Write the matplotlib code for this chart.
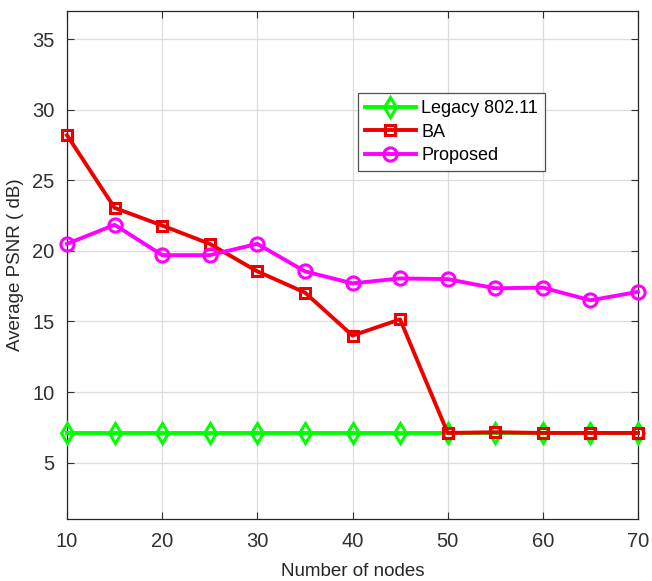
import matplotlib
matplotlib.use("Agg")
import matplotlib.pyplot as plt

plt.rcParams['font.family'] = ['Liberation Sans', 'DejaVu Sans']

nodes = [10, 15, 20, 25, 30, 35, 40, 45, 50, 55, 60, 65, 70]
legacy = [7.1, 7.1, 7.1, 7.1, 7.1, 7.1, 7.1, 7.1, 7.1, 7.1, 7.1, 7.1, 7.1]
ba = [28.2, 23.05, 21.8, 20.5, 18.55, 17.05, 14.0, 15.15, 7.1, 7.15, 7.1, 7.1, 7.1]
proposed = [20.5, 21.85, 19.7, 19.7, 20.5, 18.55, 17.7, 18.05, 18.0, 17.35, 17.4, 16.5, 17.1]

x_ticks = [10, 20, 30, 40, 50, 60, 70]
y_ticks = [5, 10, 15, 20, 25, 30, 35]

fig = plt.figure(figsize=(6.52, 5.81), dpi=100)
ax = fig.add_axes([0.1028, 0.1067, 0.8757, 0.8743])

lw = 2.8
ax.plot(nodes, legacy, color='#00ff00', lw=lw, marker='d', ms=10, mfc='none',
        mec='#00ff00', mew=2.2, label='Legacy 802.11', zorder=3, clip_on=False)
ax.plot(nodes, ba, color='#ee0000', lw=lw, marker='s', ms=7, mfc='none',
        mec='#ee0000', mew=2.2, label='BA', zorder=4, clip_on=False)
ax.plot(nodes, proposed, color='#ff00ff', lw=lw, marker='o', ms=9.5, mfc='none',
        mec='#ff00ff', mew=2.2, label='Proposed', zorder=5, clip_on=False)

ax.set_xlim(10, 70)
ax.set_ylim(1, 37)
ax.set_xticks(x_ticks)
ax.set_yticks(y_ticks)
ax.grid(True, color='#dcdcdc', lw=0.9)
ax.set_axisbelow(True)
ax.tick_params(direction='in', length=5, labelsize=14.5, colors='#303030',
               top=True, right=True, pad=9)
for s in ax.spines.values():
    s.set_color('#262626')
    s.set_linewidth(0.9)

ax.set_xlabel('Number of nodes', fontsize=13.5, color='#262626', labelpad=9)
ax.set_ylabel('Average PSNR ( dB)', fontsize=13.5, color='#262626', labelpad=6)

leg = ax.legend(loc='upper left', bbox_to_anchor=(0.5096, 0.8386), fontsize=13,
                frameon=True, fancybox=False, edgecolor='#262626',
                handlelength=2.8, handletextpad=0.3, labelspacing=0.35,
                borderpad=0.4, borderaxespad=0)
leg.get_frame().set_linewidth(0.9)

fig.savefig('out.png', dpi=100)
